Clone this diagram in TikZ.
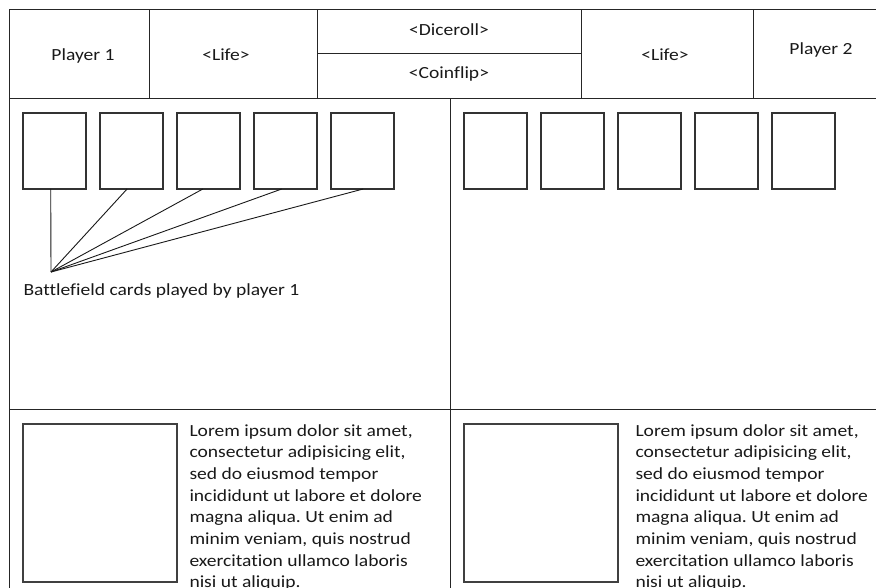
\documentclass[tikz,border=0pt]{standalone}
\usepackage{fontspec}
\setmainfont{Carlito}[FakeStretch=1.15,Ligatures={NoCommon}]
\usetikzlibrary{calc}
\frenchspacing
\begin{document}
\begin{tikzpicture}[x=1pt,y=-1pt,line width=1pt,
  grid/.style={draw=black!85,line width=1pt},
  card/.style={draw=black!80,line width=1.1pt,minimum width=63pt,minimum height=76pt,inner sep=0pt,outer sep=0pt,anchor=north west},
  pic/.style={draw=black!75,line width=1.2pt,minimum width=154pt,minimum height=158pt,inner sep=0pt,outer sep=0pt,anchor=north west},
  lbl/.style={font=\fontsize{17}{20}\selectfont,text=black!90,inner sep=0pt,anchor=base},
  lead/.style={draw=black!90,line width=0.9pt},
  lorem/.style={font=\fontsize{17}{21.7}\selectfont,text=black!90,inner sep=0pt,anchor=base west}
]
\useasboundingbox (0,0) rectangle (876,588);
% frame
\draw[grid] (9,588) -- (9,10) -- (880,10);
\draw[grid] (9,99) -- (880,99);
\draw[grid] (149,10) -- (149,99);
\draw[grid] (317,10) -- (317,99);
\draw[grid] (581,10) -- (581,99);
\draw[grid] (753,10) -- (753,99);
\draw[grid] (317,54) -- (581,54);
\draw[grid] (450,99) -- (450,590);
\draw[grid] (9,409) -- (880,409);
% header labels
\node[lbl] (p1) at (83,61) {Player 1};
\node[lbl] (life1) at (226,61) {<Life>};
\node[lbl] (dice) at (449,36) {<Diceroll>};
\node[lbl] (coin) at (449,79) {<Coinflip>};
\node[lbl] (life2) at (665,61) {<Life>};
\node[lbl] (p2) at (821,55) {Player 2};
% left cards
\node[card] (c1) at (23,113) {};
\node[card] (c2) at (100,113) {};
\node[card] (c3) at (177,113) {};
\node[card] (c4) at (254,113) {};
\node[card] (c5) at (331,113) {};
% right cards
\node[card] (d1) at (464,113) {};
\node[card] (d2) at (541,113) {};
\node[card] (d3) at (618,113) {};
\node[card] (d4) at (695,113) {};
\node[card] (d5) at (772,113) {};
% leader lines
\coordinate (hub) at (51,272);
\draw[lead] ($(c1.south west)!0.44!(c1.south east)$) -- (hub);
\draw[lead] ($(c2.south west)!0.43!(c2.south east)$) -- (hub);
\draw[lead] ($(c3.south west)!0.41!(c3.south east)$) -- (hub);
\draw[lead] ($(c4.south west)!0.44!(c4.south east)$) -- (hub);
\draw[lead] ($(c5.south west)!0.51!(c5.south east)$) -- (hub);
\node[lbl,anchor=base west] (bf) at (23,295) {Battlefield cards played by player 1};
% bottom
\node[pic] (a1) at (23,424) {};
\node[pic] (a2) at (464,424) {};
\node[lorem] (t1) at (189,436) {\parbox[t]{260pt}{\fontsize{17}{21.7}\selectfont\raggedright
Lorem ipsum dolor sit amet,\\consectetur adipisicing elit,\\sed do eiusmod tempor\\incididunt ut labore et dolore\\magna aliqua. Ut enim ad\\minim veniam, quis nostrud\\exercitation ullamco laboris\\nisi ut aliquip.}};
\node[lorem] (t2) at (635,436) {\parbox[t]{260pt}{\fontsize{17}{21.7}\selectfont\raggedright
Lorem ipsum dolor sit amet,\\consectetur adipisicing elit,\\sed do eiusmod tempor\\incididunt ut labore et dolore\\magna aliqua. Ut enim ad\\minim veniam, quis nostrud\\exercitation ullamco laboris\\nisi ut aliquip.}};
\end{tikzpicture}
\end{document}
